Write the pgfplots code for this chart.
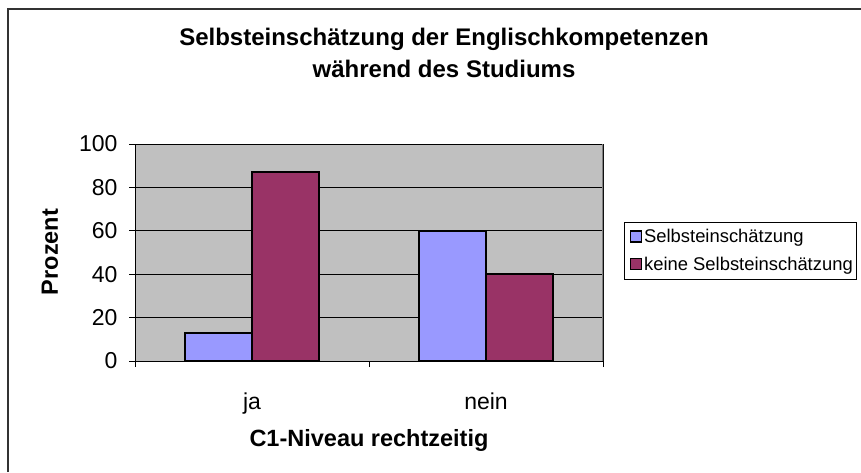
\documentclass[border=0pt]{standalone}
\usepackage{pgfplots}
\pgfplotsset{compat=1.18}
\usepackage{fontspec}
\setmainfont{Liberation Sans}
\definecolor{barblue}{HTML}{9999FF}
\definecolor{barred}{HTML}{993366}
\definecolor{plotgray}{HTML}{C0C0C0}
\begin{document}
\begin{tikzpicture}[x=1pt,y=1pt]
\path[use as bounding box] (0,0) rectangle (861,472);
\fill[white] (0,0) rectangle (861,472);
\draw[line width=1.5pt, black!80] (8,0) -- (8,463) -- (861,463);
\node[font=\bfseries\fontsize{24}{28}\selectfont, anchor=base] at (444,426) {Selbsteinschätzung der Englischkompetenzen};
\node[font=\bfseries\fontsize{24}{28}\selectfont, anchor=base] at (444,394) {während des Studiums};
\begin{axis}[
  at={(135pt,111pt)}, anchor=south west,
  width=468pt, height=217pt, scale only axis,
  xmin=-0.5, xmax=1.5, ymin=0, ymax=100,
  ybar=0pt, bar width=0.286,
  axis background/.style={fill=plotgray},
  axis line style={black, line width=1pt},
  ytick={0,20,...,100},
  xtick={0,1}, xticklabels={ja,nein},
  minor xtick={-0.5,0.5,1.5},
  tick align=outside,
  xtick pos=bottom, ytick pos=left,
  major tick length=6pt, minor tick length=6pt,
  major x tick style={draw=none},
  tick style={black, line width=1pt},
  ymajorgrids, grid style={black, line width=0.8pt},
  /pgf/number format/assume math mode=true,
  ticklabel style={font=\fontsize{23}{26}\selectfont},
  xticklabel style={anchor=base, yshift=-42pt},
  yticklabel style={anchor=east, xshift=-8pt},
  xlabel={C1-Niveau rechtzeitig},
  ylabel={Prozent},
  label style={font=\bfseries\fontsize{23.5}{26}\selectfont},
  xlabel style={at={(axis description cs:0.5,-0.3917)}, anchor=base},
  ylabel style={at={(axis description cs:-0.1816,0.502)}, anchor=center},
  legend style={at={(axis description cs:1.0449,0.6406)}, anchor=north west,
    draw=black, fill=white, font=\fontsize{18.4}{20}\selectfont,
    inner xsep=2pt, inner ysep=5pt, row sep=9pt, line width=0.8pt,
    nodes={inner xsep=2pt}},
  legend cell align=left,
  legend image code/.code={\path[draw=none, fill=none] (-4pt,0pt) -- (0pt,0pt); \draw[#1, draw=black, line width=1.4pt] (0pt,-5pt) rectangle (11pt,6pt);},
]
\addplot[fill=barblue, draw=black, line width=1.6pt] coordinates {(0,13) (1,60)};
\addplot[fill=barred, draw=black, line width=1.6pt] coordinates {(0,87) (1,40)};
\legend{Selbsteinschätzung, keine Selbsteinschätzung}
\draw[gray, line width=1.2pt] (rel axis cs:1,0) -- (rel axis cs:1,1);
\end{axis}
\end{tikzpicture}
\end{document}
